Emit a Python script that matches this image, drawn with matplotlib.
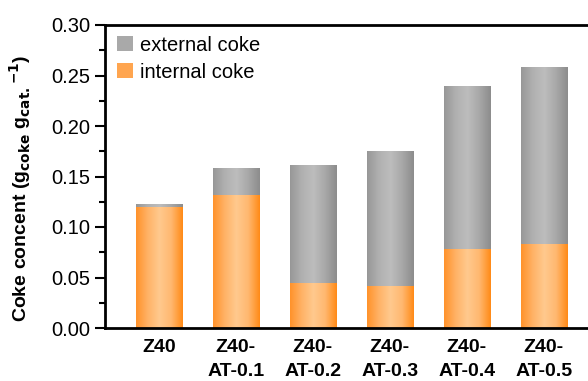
import matplotlib
matplotlib.use("Agg")
import matplotlib.pyplot as plt
import numpy as np
from matplotlib.colors import LinearSegmentedColormap
from matplotlib.patches import Patch
from matplotlib.ticker import MultipleLocator

samples = ["Z40", "Z40-\nAT-0.1", "Z40-\nAT-0.2", "Z40-\nAT-0.3", "Z40-\nAT-0.4", "Z40-\nAT-0.5"]
internal_coke = [0.120, 0.132, 0.045, 0.042, 0.078, 0.083]
external_coke = [0.003, 0.026, 0.116, 0.133, 0.162, 0.175]

plt.rcParams["font.family"] = ["Liberation Sans", "DejaVu Sans"]

W, H = 588, 381
fig = plt.figure(figsize=(W / 100, H / 100), dpi=100)
ax = fig.add_axes([105 / W, (H - 328) / H, (W - 105) / W, (328 - 25) / H])

# cylinder-like shading across each bar
orange_cmap = LinearSegmentedColormap.from_list(
    "orange", ["#ff922a", "#ffb266", "#ffc98e", "#ffb870", "#ff8a16"])
gray_cmap = LinearSegmentedColormap.from_list(
    "gray", ["#979797", "#b0b0b0", "#bdbdbd", "#a8a8a8", "#8c8c8c"])
grad = np.linspace(0, 1, 256).reshape(1, -1)

x = np.arange(len(samples))
bars_in = ax.bar(x, internal_coke, width=0.6, facecolor="none", edgecolor="none", zorder=3)
bars_ex = ax.bar(x, external_coke, width=0.6, bottom=internal_coke, facecolor="none",
                 edgecolor="none", zorder=3)

for bars, cmap in [(bars_in, orange_cmap), (bars_ex, gray_cmap)]:
    for b in bars:
        x0, y0 = b.get_x(), b.get_y()
        im = ax.imshow(grad, cmap=cmap, aspect="auto", zorder=2,
                       extent=[x0, x0 + b.get_width(), y0, y0 + b.get_height()])
        im.set_clip_path(b)

ax.set_xlim(-0.70, 5.575)
ax.set_ylim(0, 0.30)
ax.yaxis.set_major_locator(MultipleLocator(0.05))
ax.yaxis.set_minor_locator(MultipleLocator(0.025))
ax.set_yticks(np.arange(0, 0.301, 0.05))
ax.set_yticklabels([f"{v:.2f}" for v in np.arange(0, 0.301, 0.05)])
ax.tick_params(axis="y", which="major", direction="out", length=7, width=1.5,
               labelsize=14.5, pad=3.5)
ax.tick_params(axis="y", which="minor", direction="out", length=4, width=1.5)
ax.set_xticks(x)
ax.set_xticklabels(samples, fontsize=14, fontweight="bold", linespacing=1.5)
ax.tick_params(axis="x", length=0, pad=8)

for side in ["left", "bottom", "top"]:
    ax.spines[side].set_linewidth(2)
ax.spines["right"].set_visible(False)

ax.set_ylabel(r"Coke concent (g$_{\mathbf{coke}}$ g$_{\mathbf{cat.}}$$^{\mathbf{-1}}$)",
              fontsize=14, fontweight="bold")
ax.yaxis.set_label_coords(-0.15, 0.462)

handles = [Patch(facecolor="#a9a9a9", edgecolor="none", label="external coke"),
           Patch(facecolor="#ffa54f", edgecolor="none", label="internal coke")]
ax.legend(handles=handles, loc="upper left", bbox_to_anchor=(0.025, 0.965),
          frameon=False, fontsize=14.5, borderpad=0, borderaxespad=0,
          handlelength=0.8, handleheight=0.8, handletextpad=0.35, labelspacing=0.4)

fig.savefig("out.png", dpi=100)
